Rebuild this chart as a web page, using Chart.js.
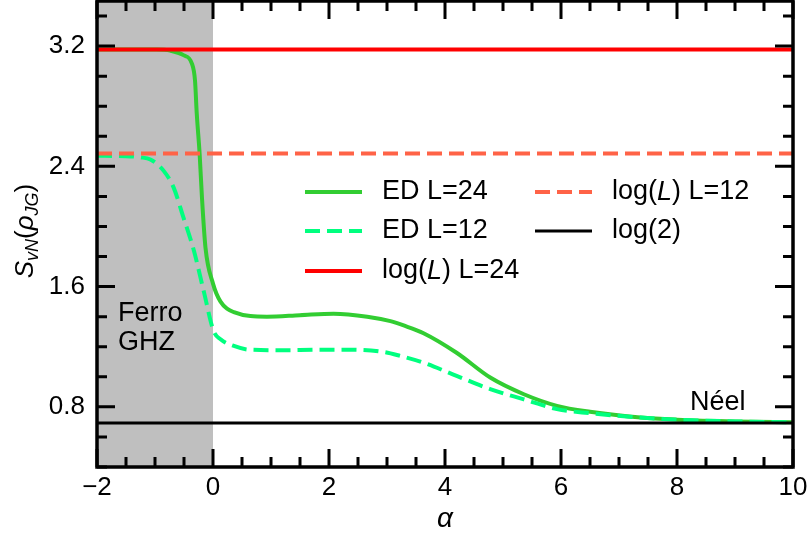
<!doctype html>
<html lang="en">
    <head>
        <meta charset="UTF-8" />
        <title>Entanglement entropy vs alpha</title>
        <script src="https://cdn.jsdelivr.net/npm/chart.js@4"></script>
        <style>
            html,
            body {
                margin: 0;
                padding: 0;
                background: #fff;
            }

            #wrap {
                width: 809px;
                height: 537px;
            }
        </style>
    </head>
    <body>
        <div id="wrap"><canvas id="chart"></canvas></div>
        <script>
            // ED L=24 (solid)
            const alpha24 = [
                -2, -1.5, -1.0, -0.74, -0.51, -0.36, -0.31, -0.28, -0.23,
                -0.19, -0.13, 0.0, 0.13, 0.36, 0.93, 1.5, 2.08, 2.66, 3.06,
                3.3, 3.63, 4.2, 4.78, 5.36, 5.93, 6.5, 7.37, 8, 9, 10,
            ];
            const ed24 = [
                3.178, 3.178, 3.177, 3.17, 3.14, 3.08, 2.97, 2.75, 2.48, 2.19,
                1.86, 1.62, 1.5, 1.43, 1.4, 1.41, 1.42, 1.4, 1.37, 1.34,
                1.29, 1.16, 0.995, 0.884, 0.807, 0.767, 0.729, 0.715, 0.703,
                0.697,
            ];

            // ED L=12 (dashed)
            const alpha12 = [
                -2, -1.5, -1.25, -1.08, -0.85, -0.68, -0.51, -0.33, -0.16,
                0.01, 0.13, 0.36, 0.64, 1.21, 1.79, 2.37, 2.94, 3.23, 3.63,
                4.2, 4.78, 5.36, 5.93, 6.5, 7.37, 8, 9, 10,
            ];
            const ed12 = [
                2.47, 2.468, 2.46, 2.446, 2.37, 2.26, 2.06, 1.84, 1.57, 1.305,
                1.25, 1.205, 1.18, 1.177, 1.18, 1.18, 1.165, 1.139, 1.094,
                1.006, 0.918, 0.85, 0.785, 0.758, 0.729, 0.715, 0.703, 0.697,
            ];

            // reference levels: log(24), log(12), log(2)
            const refLevels = [3.178, 2.485, 0.693];
            const refSpan = [-2, 10];

            const xTickVals = [-2, 0, 2, 4, 6, 8, 10];
            const yTickVals = [0.8, 1.6, 2.4, 3.2];
            const shadeAlpha = [-2, 0];

            /*** * * ***/

            const FONT = "'Liberation Sans', Arial, sans-serif";
            const FS = 26;
            const LFS = 27;

            function pts(xs, ys) {
                return xs.map((x, i) => ({ x: x, y: ys[i] }));
            }

            function flat(level) {
                return refSpan.map((x) => ({ x: x, y: level }));
            }

            // draw text made of pieces: {t, italic, size, dy}
            function richWidth(ctx, parts) {
                let w = 0;
                parts.forEach((p) => {
                    ctx.font = `${p.italic ? "italic " : ""}${p.size || LFS}px ${FONT}`;
                    w += ctx.measureText(p.t).width;
                });
                return w;
            }

            function drawRich(ctx, parts, x, y) {
                let cx = x;
                parts.forEach((p) => {
                    ctx.font = `${p.italic ? "italic " : ""}${p.size || LFS}px ${FONT}`;
                    ctx.fillText(p.t, cx, y + (p.dy || 0));
                    cx += ctx.measureText(p.t).width;
                });
            }

            const decor = {
                id: "decor",
                beforeDatasetsDraw(chart) {
                    const { ctx, chartArea: a, scales } = chart;
                    const x0 = scales.x.getPixelForValue(shadeAlpha[0]);
                    const x1 = scales.x.getPixelForValue(shadeAlpha[1]);
                    ctx.save();
                    ctx.fillStyle = "#bfbfbf";
                    ctx.fillRect(x0, a.top, x1 - x0, a.bottom - a.top);
                    ctx.restore();
                },
                afterDatasetsDraw(chart) {
                    const { ctx, chartArea: a, scales } = chart;
                    const xs = scales.x;
                    const ys = scales.y;
                    ctx.save();
                    ctx.strokeStyle = "#000";
                    ctx.lineCap = "butt";

                    // ticks, inward on all sides
                    ctx.lineWidth = 3;
                    for (let v = -2; v <= 10.001; v += 0.5) {
                        const px = xs.getPixelForValue(v);
                        const major = Math.abs(v / 2 - Math.round(v / 2)) < 1e-6;
                        const len = major ? 18 : 10;
                        ctx.beginPath();
                        ctx.moveTo(px, a.bottom);
                        ctx.lineTo(px, a.bottom - len);
                        ctx.moveTo(px, a.top);
                        ctx.lineTo(px, a.top + len);
                        ctx.stroke();
                    }
                    for (let v = 0.4; v <= 3.5; v += 0.2) {
                        const py = ys.getPixelForValue(v);
                        const q = v / 0.8;
                        const major = Math.abs(q - Math.round(q)) < 1e-6;
                        const len = major ? 18 : 10;
                        ctx.beginPath();
                        ctx.moveTo(a.left, py);
                        ctx.lineTo(a.left + len, py);
                        ctx.moveTo(a.right, py);
                        ctx.lineTo(a.right - len, py);
                        ctx.stroke();
                    }

                    // frame
                    ctx.lineWidth = 3.5;
                    ctx.strokeRect(a.left, a.top, a.right - a.left, a.bottom - a.top);
                    ctx.restore();
                },
                afterDraw(chart) {
                    const { ctx, chartArea: a } = chart;
                    const ds = chart.data.datasets;
                    ctx.save();
                    ctx.fillStyle = "#000";
                    ctx.textBaseline = "middle";

                    // legend, two columns
                    const rows = [
                        [0, 305, 192],
                        [1, 305, 231],
                        [2, 305, 271],
                        [3, 535, 192],
                        [4, 535, 231],
                    ];
                    const labels = [
                        [{ t: "ED L=24" }],
                        [{ t: "ED L=12" }],
                        [{ t: "log(" }, { t: "L", italic: true }, { t: ") L=24" }],
                        [{ t: "log(" }, { t: "L", italic: true }, { t: ") L=12" }],
                        [{ t: "log(2)" }],
                    ];
                    rows.forEach(([i, lx, ly]) => {
                        const d = ds[i];
                        ctx.save();
                        ctx.strokeStyle = d.borderColor;
                        ctx.lineWidth = d.borderWidth;
                        ctx.setLineDash(d.borderDash || []);
                        ctx.beginPath();
                        ctx.moveTo(lx, ly);
                        ctx.lineTo(lx + 57, ly);
                        ctx.stroke();
                        ctx.restore();
                        drawRich(ctx, labels[i], lx + 77, ly);
                    });

                    // region annotations
                    ctx.textBaseline = "alphabetic";
                    ctx.font = `${LFS}px ${FONT}`;
                    ctx.fillText("Ferro", 118, 321);
                    ctx.fillText("GHZ", 118, 350);
                    ctx.fillText("Néel", 690, 410);

                    // x title
                    ctx.font = `italic 28px ${FONT}`;
                    ctx.textAlign = "center";
                    ctx.fillText("α", (a.left + a.right) / 2, 527);

                    // y title, rotated
                    ctx.textAlign = "left";
                    const ttl = [
                        { t: "S", italic: true, size: 26 },
                        { t: "vN", italic: true, size: 18, dy: 5 },
                        { t: "(", size: 26 },
                        { t: "ρ", italic: true, size: 26 },
                        { t: "JG", italic: true, size: 18, dy: 5 },
                        { t: ")", size: 26 },
                    ];
                    const w = richWidth(ctx, ttl);
                    ctx.translate(33, 231);
                    ctx.rotate(-Math.PI / 2);
                    drawRich(ctx, ttl, -w / 2, 0);
                    ctx.restore();
                },
            };

            /*** * * ***/

            new Chart(document.getElementById("chart"), {
                type: "line",
                data: {
                    datasets: [
                        {
                            label: "ED L=24",
                            data: pts(alpha24, ed24),
                            borderColor: "#32cd32",
                            borderWidth: 4,
                            order: 5,
                        },
                        {
                            label: "ED L=12",
                            data: pts(alpha12, ed12),
                            borderColor: "#00ff7f",
                            borderWidth: 4,
                            borderDash: [15, 7],
                            order: 4,
                        },
                        {
                            label: "log(L) L=24",
                            data: flat(refLevels[0]),
                            borderColor: "#ff0000",
                            borderWidth: 4,
                            order: 3,
                        },
                        {
                            label: "log(L) L=12",
                            data: flat(refLevels[1]),
                            borderColor: "#ff6347",
                            borderWidth: 4,
                            borderDash: [15, 7],
                            order: 2,
                        },
                        {
                            label: "log(2)",
                            data: flat(refLevels[2]),
                            borderColor: "#000000",
                            borderWidth: 3,
                            order: 1,
                        },
                    ],
                },
                options: {
                    responsive: true,
                    maintainAspectRatio: false,
                    animation: false,
                    layout: {
                        padding: { left: 0, right: 16, top: 1, bottom: 0 },
                    },
                    elements: {
                        point: { radius: 0 },
                        line: { cubicInterpolationMode: "monotone", fill: false },
                    },
                    plugins: {
                        legend: { display: false },
                        tooltip: { enabled: false },
                    },
                    scales: {
                        x: {
                            type: "linear",
                            min: -2,
                            max: 10,
                            grid: { display: false, drawTicks: false },
                            border: { display: false },
                            afterFit: (s) => {
                                s.height = 70;
                                s.paddingLeft = 0;
                                s.paddingRight = 0;
                            },
                            afterBuildTicks: (s) => {
                                s.ticks = xTickVals.map((v) => ({ value: v }));
                            },
                            ticks: {
                                padding: 5,
                                color: "#000",
                                font: { family: FONT, size: FS },
                                callback: (v) =>
                                    v < 0 ? "\u2212" + Math.abs(v) : String(v),
                            },
                        },
                        y: {
                            min: 0.4,
                            max: 3.5,
                            grid: { display: false, drawTicks: false },
                            border: { display: false },
                            afterFit: (s) => {
                                s.width = 97;
                                s.paddingTop = 0;
                                s.paddingBottom = 0;
                            },
                            afterBuildTicks: (s) => {
                                s.ticks = yTickVals.map((v) => ({ value: v }));
                            },
                            ticks: {
                                padding: 12,
                                color: "#000",
                                font: { family: FONT, size: FS },
                                callback: (v) => v.toFixed(1),
                            },
                        },
                    },
                },
                plugins: [decor],
            });
        </script>
    </body>
</html>
